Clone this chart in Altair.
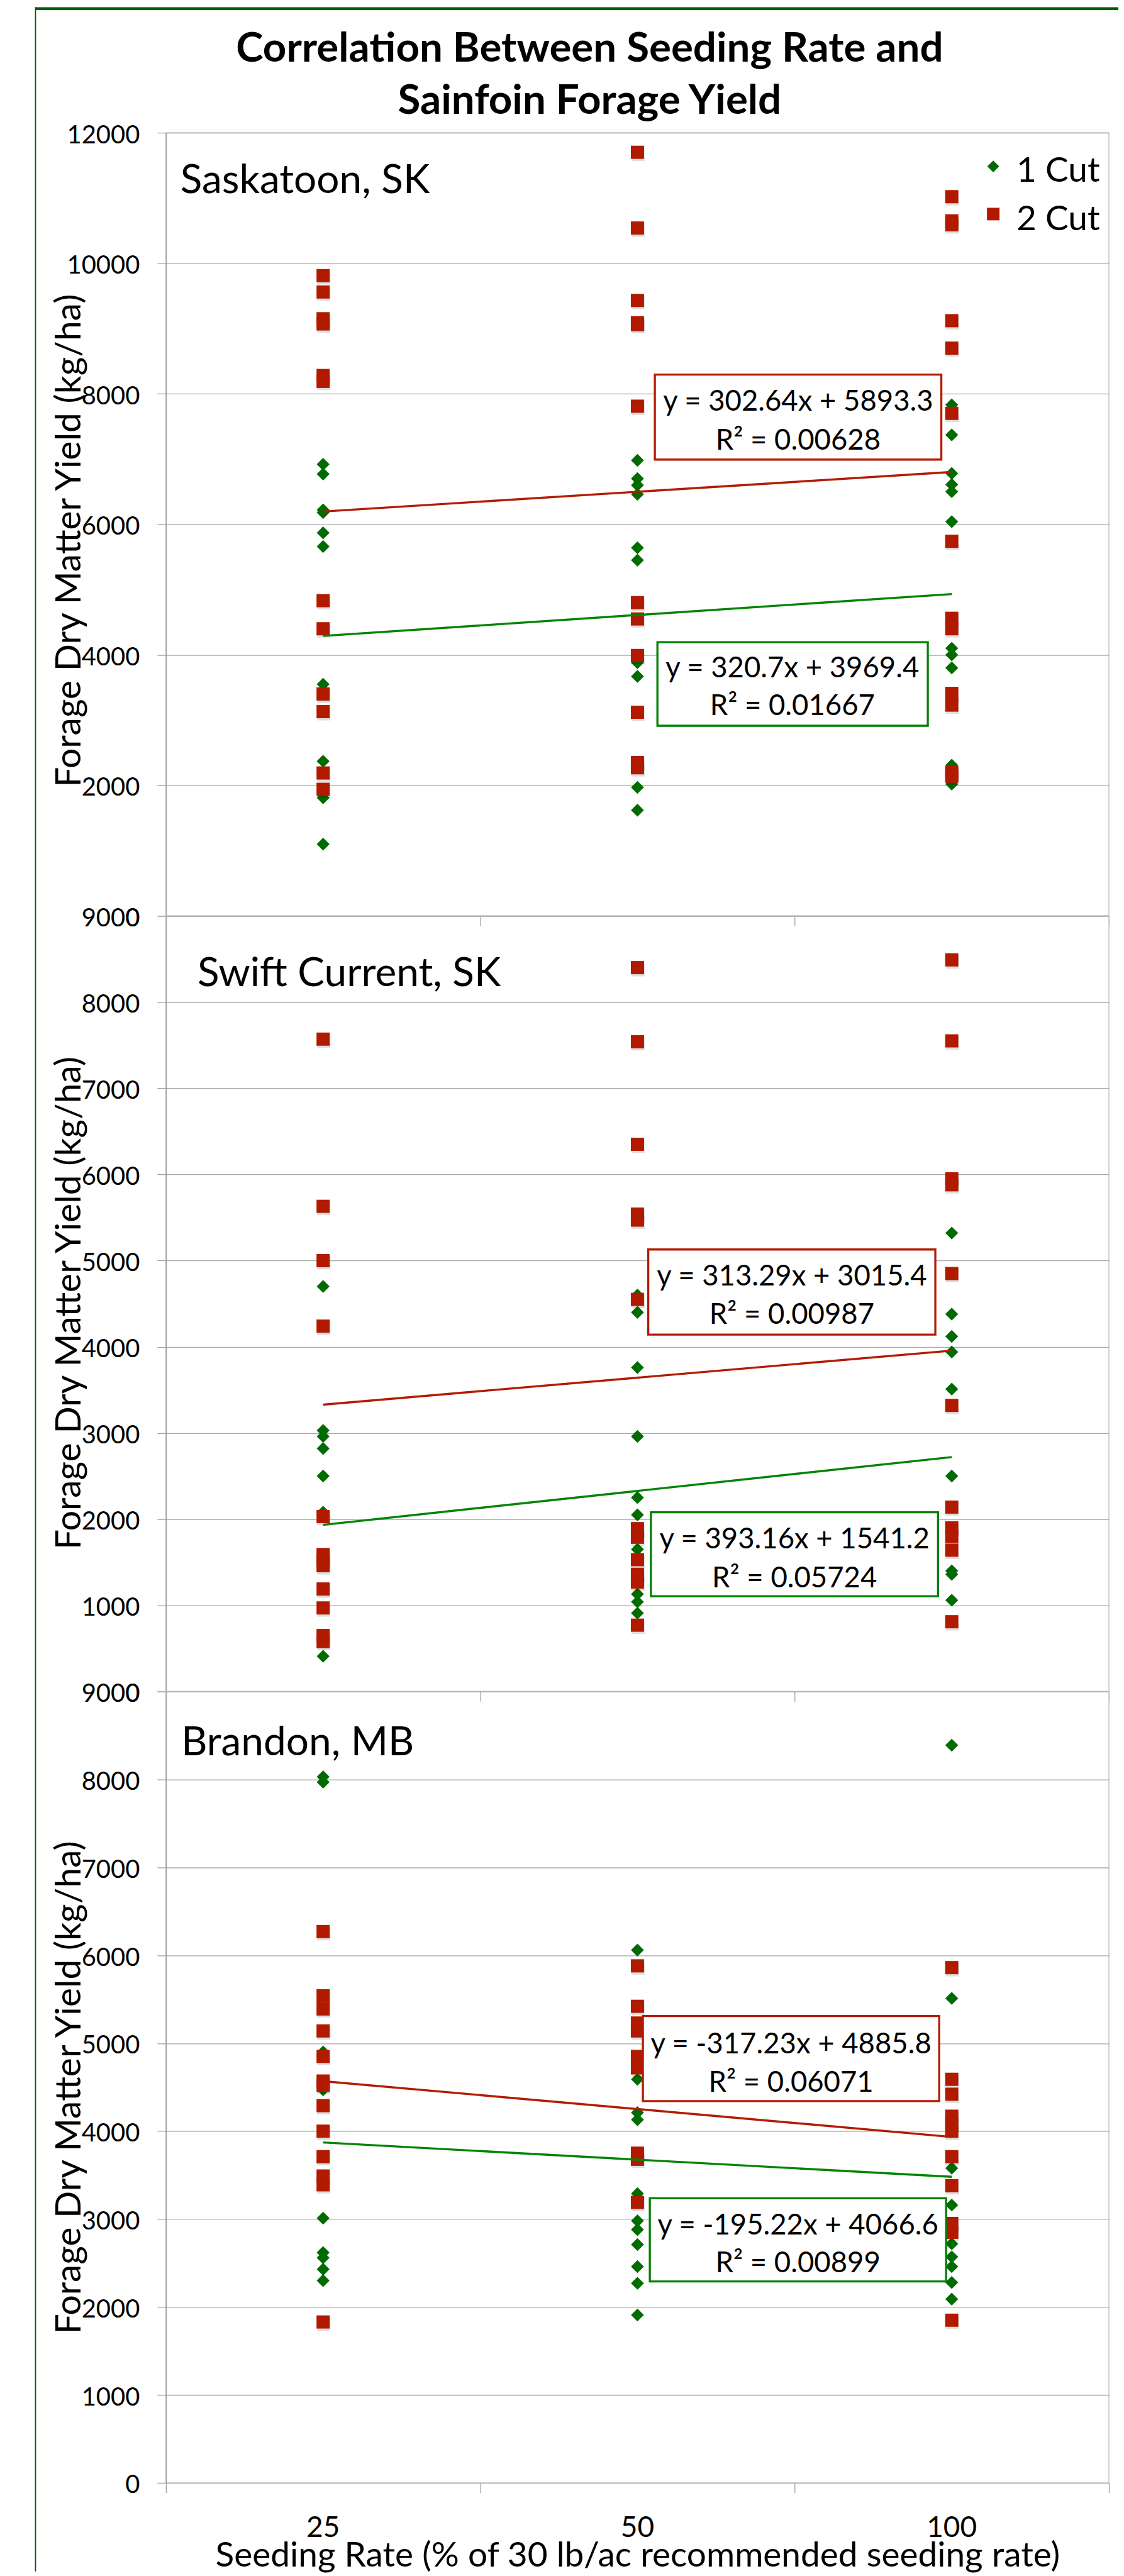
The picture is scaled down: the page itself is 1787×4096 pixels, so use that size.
import altair as alt
import pandas as pd

# ---------------- data ----------------
rates = ["25", "50", "100"]
series_names = ["1 Cut", "2 Cut"]
sites = ["Saskatoon, SK", "Swift Current, SK", "Brandon, MB"]

saskatoon_1cut = {
    "25": [6920, 6770, 6220, 6180, 5870, 5660, 3550, 2370, 1810, 1100],
    "50": [6980, 6700, 6600, 6460, 5640, 5450, 3880, 3670, 1970, 1620],
    "100": [7830, 7370, 6780, 6610, 6500, 6040, 4100, 4000, 3800, 2310, 2020],
}
saskatoon_2cut = {
    "25": [9810, 9560, 9150, 9070, 8280, 8190, 4830, 4400, 3400, 3130, 2190, 1940],
    "50": [11700, 10540, 9430, 9090, 9060, 7810, 4800, 4550, 3990, 3120, 2350, 2270],
    "100": [11020, 10650, 10590, 9120, 8700, 7700, 5740, 4560, 4400, 3410, 3230, 2200, 2140],
}
swift_1cut = {
    "25": [4700, 3030, 2960, 2820, 2500, 2080, 410],
    "50": [4600, 4400, 3760, 2960, 2250, 2050, 1650, 1130, 1040, 910],
    "100": [5320, 4380, 4120, 3940, 3510, 2500, 1400, 1360, 1060],
}
swift_2cut = {
    "25": [7570, 5630, 5000, 4240, 2030, 1590, 1520, 1460, 1190, 970, 650, 580],
    "50": [8400, 7540, 6350, 5540, 5470, 4550, 1890, 1790, 1530, 1360, 1270, 770],
    "100": [8490, 7550, 5950, 5880, 4850, 3320, 2140, 1900, 1800, 1640, 810],
}
brandon_1cut = {
    "25": [8030, 7970, 4900, 4470, 3010, 2620, 2560, 2430, 2300],
    "50": [6060, 4590, 4210, 4130, 3290, 2980, 2880, 2710, 2460, 2270, 1910],
    "100": [8390, 5510, 3580, 3160, 2720, 2570, 2460, 2280, 2090],
}
brandon_2cut = {
    "25": [6270, 5540, 5390, 5140, 4850, 4570, 4520, 4290, 4000, 3710, 3490, 3390, 1830],
    "50": [5880, 5420, 5230, 5140, 4850, 4720, 3750, 3680, 3190],
    "100": [5860, 4590, 4420, 4170, 4080, 4000, 3710, 3380, 2950, 2850, 1850],
}

# linear trendlines (Excel, x = category index 1..3)
slope_1cut = [320.7, 393.16, -195.22]
intercept_1cut = [3969.4, 1541.2, 4066.6]
r2_1cut = [0.01667, 0.05724, 0.00899]
slope_2cut = [302.64, 313.29, -317.23]
intercept_2cut = [5893.3, 3015.4, 4885.8]
r2_2cut = [0.00628, 0.00987, 0.06071]

y_max = [12000, 9000, 9000]
y_step = [2000, 1000, 1000]

title_lines = ["Correlation Between Seeding Rate and", "Sainfoin Forage Yield"]
y_title = "Forage Dry Matter Yield (kg/ha)"
x_title = "Seeding Rate (% of 30 lb/ac recommended seeding rate)"

# ---------------- tables ----------------
site_series = {
    sites[0]: (saskatoon_1cut, saskatoon_2cut),
    sites[1]: (swift_1cut, swift_2cut),
    sites[2]: (brandon_1cut, brandon_2cut),
}
rows = []
for site, pair in site_series.items():
    for sname, dct in zip(series_names, pair):
        for k, r in enumerate(rates):
            for v in dct[r]:
                rows.append({"site": site, "series": sname, "rate": r, "pos": k + 1, "value": v})
df = pd.DataFrame(rows)

trend_rows = []
eq_rows = []
for i, site in enumerate(sites):
    for sname, sl, ic, r2 in (
        (series_names[0], slope_1cut[i], intercept_1cut[i], r2_1cut[i]),
        (series_names[1], slope_2cut[i], intercept_2cut[i], r2_2cut[i]),
    ):
        for p in (1, len(rates)):
            trend_rows.append({"site": site, "series": sname, "pos": p, "value": sl * p + ic})
        eq_rows.append({"site": site, "series": sname,
                        "line1": f"y = {sl}x + {ic}", "line2": f"R\u00b2 = {r2}"})
trend_df = pd.DataFrame(trend_rows)
eq_df = pd.DataFrame(eq_rows)
rate_df = pd.DataFrame({"rate": rates, "pos": list(range(1, len(rates) + 1))})

# ---------------- styling / layout (output pixels) ----------------
FONT = "Lato"
GREEN_PT = "#006B00"
RED_PT = "#B21A00"
GREEN_LINE = "#008400"
RED_LINE = "#B31B00"
GREEN_BOX = "#008000"
RED_BOX = "#B31B00"
FRAME = "#005C00"
GRID = "#A8A8A8"
AXC = "#A0A0A0"

PLOT_W = 1500
panel_h = [1246, 1234, 1259]
ytitle_y = [648.5, 615.5, 629.5]
site_label_pos = [(22.9, 96.4), (50.1, 111.3), (24.3, 101.1)]
# per panel: series -> (x0, x1, y0, y1, text_x, baseline1, baseline2)
eq_layout = [
    {"2 Cut": (777.7, 1233.4, 384.9, 520.0, 1005.6, 442.5, 504.0),
     "1 Cut": (781.8, 1211.9, 810.6, 943.5, 996.5, 866.9, 926.6)},
    {"2 Cut": (767.2, 1223.9, 530.7, 666.2, 995.6, 588.0, 649.4),
     "1 Cut": (771.5, 1228.2, 948.7, 1082.4, 999.9, 1006.7, 1068.1)},
    {"2 Cut": (758.7, 1230.0, 516.3, 651.7, 994.3, 575.9, 636.4),
     "1 Cut": (769.7, 1241.0, 806.1, 938.6, 1005.4, 863.9, 923.5)},
]

one = pd.DataFrame({"a": [0]})


def panel(i):
    site = sites[i]
    H = panel_h[i]
    last = i == len(sites) - 1
    d = df[df.site == site]

    xs = alt.Scale(domain=[0.5, len(rates) + 0.5], nice=False, zero=False)
    ys = alt.Scale(domain=[0, y_max[i]], nice=False, zero=True)

    xaxis_kw = dict(
        values=[k + 0.5 for k in range(len(rates) + 1)], grid=False, domain=False,
        ticks=True, tickSize=15.6, tickColor=AXC, tickWidth=1.3, labels=False,
    )
    if last:
        xaxis_kw.update(
            titleX=PLOT_W / 2, titleY=133, titleBaseline="alphabetic", titleAlign="center",
            titleFont=FONT, titleFontSize=55, titleFontWeight="normal", titleColor="black",
        )
    xaxis = alt.Axis(**xaxis_kw)
    yaxis = alt.Axis(
        values=list(range(0, y_max[i] + 1, y_step[i])), format="d",
        grid=True, gridColor=GRID, gridWidth=1.3,
        domain=True, domainColor=AXC, domainWidth=1.6,
        ticks=True, tickSize=14, tickColor=AXC, tickWidth=1.3,
        labelFont=FONT, labelFontSize=40, labelColor="black", labelPadding=28,
        labelBaseline="middle", labelOffset=4, labelFlush=False, labelOverlap=False,
        titleFont=FONT, titleFontSize=57, titleFontWeight="normal", titleColor="black",
        titleX=-136, titleY=ytitle_y[i], titleAngle=270, titleAlign="center",
        titleBaseline="alphabetic",
    )
    xt = x_title if last else None
    X = lambda: alt.X("pos:Q", scale=xs, axis=xaxis, title=xt)
    Y = lambda: alt.Y("value:Q", scale=ys, axis=yaxis, title=y_title)

    layers = []
    green = alt.Chart(d[d.series == series_names[0]]).mark_point(
        shape="diamond", filled=True, size=420, opacity=1, color=GREEN_PT, strokeWidth=0
    ).encode(x=X(), y=Y())
    layers.append(green)

    red_d = d[d.series == series_names[1]]
    shadow = alt.Chart(red_d).mark_point(
        shape="square", filled=True, size=440, opacity=0.13, color="#000000",
        yOffset=3.5, xOffset=1, strokeWidth=0
    ).encode(x=X(), y=Y())
    red = alt.Chart(red_d).mark_point(
        shape="square", filled=True, size=440, opacity=1, color=RED_PT, strokeWidth=0
    ).encode(x=X(), y=Y())
    layers += [shadow, red]

    trend = alt.Chart(trend_df[trend_df.site == site]).mark_line(strokeWidth=3.4).encode(
        x=X(), y=Y(), detail="series:N",
        color=alt.Color("series:N", scale=alt.Scale(domain=series_names,
                                                    range=[GREEN_LINE, RED_LINE]), legend=None),
    )
    layers.append(trend)

    # equation boxes
    for sname, boxcol in ((series_names[1], RED_BOX), (series_names[0], GREEN_BOX)):
        x0, x1, y0, y1, tx, b1, b2 = eq_layout[i][sname]
        e = eq_df[(eq_df.site == site) & (eq_df.series == sname)]
        box = alt.Chart(e).mark_rect(fill="white", stroke=boxcol, strokeWidth=3.3).encode(
            x=alt.value(x0), x2=alt.value(x1), y=alt.value(y0), y2=alt.value(y1))
        t1 = alt.Chart(e).mark_text(align="center", baseline="alphabetic", font=FONT,
                                    fontSize=45.5, color="black").encode(
            x=alt.value(tx), y=alt.value(b1), text="line1:N")
        t2 = alt.Chart(e).mark_text(align="center", baseline="alphabetic", font=FONT,
                                    fontSize=45.5, color="black").encode(
            x=alt.value(tx), y=alt.value(b2), text="line2:N")
        layers += [box, t1, t2]

    # site label
    lx, ly = site_label_pos[i]
    lab = alt.Chart(pd.DataFrame({"site": [site]})).mark_text(
        align="left", baseline="alphabetic", font=FONT, fontSize=64, color="black"
    ).encode(x=alt.value(lx), y=alt.value(ly), text="site:N")
    layers.append(lab)

    if last:
        # category labels under the bottom panel
        layers.append(alt.Chart(rate_df).mark_text(
            align="center", baseline="alphabetic", font=FONT, fontSize=46, color="black"
        ).encode(x=X(), y=alt.value(H + 85.7), text="rate:N"))

    if i == 0:
        # legend
        leg = pd.DataFrame({"series": series_names})
        for k, (shape, col, sz, cy, by) in enumerate((
            ("diamond", GREEN_PT, 360, 53.6, 78.3),
            ("square", RED_PT, 400, 129.4, 155.0),
        )):
            row = leg.iloc[[k]]
            layers.append(alt.Chart(row).mark_point(
                shape=shape, filled=True, size=sz, opacity=1, color=col, strokeWidth=0
            ).encode(x=alt.value(1316), y=alt.value(cy)))
            layers.append(alt.Chart(row).mark_text(
                align="left", baseline="alphabetic", font=FONT, fontSize=55, color="black"
            ).encode(x=alt.value(1353), y=alt.value(by), text="series:N"))
        # title
        tl = pd.DataFrame({"t": title_lines})
        for k, by in enumerate((-112.8, -29.6)):
            layers.append(alt.Chart(tl.iloc[[k]]).mark_text(
                align="center", baseline="alphabetic", font=FONT, fontSize=65.5,
                fontWeight="bold", color="black"
            ).encode(x=alt.value(673.9), y=alt.value(by), text="t:N"))
        # frame: top bar, left line, invisible anchor
        layers.append(alt.Chart(one).mark_rect(color=FRAME).encode(
            x=alt.value(-208), x2=alt.value(1515), y=alt.value(-199.6), y2=alt.value(-195.2)))
        layers.append(alt.Chart(one).mark_rule(color=FRAME, strokeWidth=1.8).encode(
            x=alt.value(-207.5), y=alt.value(-199.6), y2=alt.value(3880)))
        layers.append(alt.Chart(one).mark_rule(color="white", strokeWidth=1).encode(
            x=alt.value(-254.5), y=alt.value(-199.6), y2=alt.value(-190)))

    return alt.layer(*layers).properties(width=PLOT_W, height=H)


chart = alt.vconcat(*[panel(i) for i in range(len(sites))], spacing=0, bounds="flush").properties(
    padding=0, background="white"
).configure_view(stroke="#C8C8C8", strokeWidth=1.6)

chart.save("out.html", embed_options={"renderer": "svg", "actions": False})
